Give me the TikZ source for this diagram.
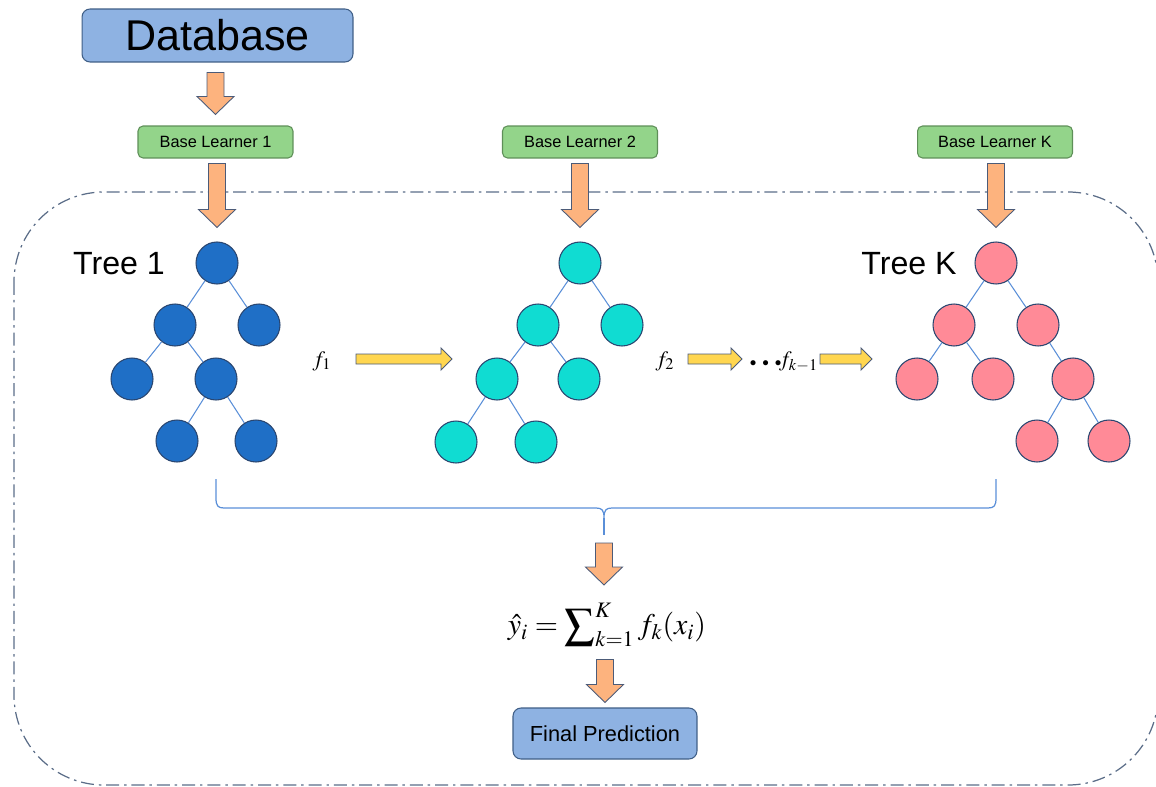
\documentclass[tikz,border=0pt]{standalone}
\usepackage{mathptmx}
\usepackage[no-math]{fontspec}
\usepackage{xcolor}
\usepackage{amsmath}
\usepackage{tikz}
\usetikzlibrary{calc}

\newfontfamily\labelfont{Liberation Sans}

\definecolor{dbblue}{HTML}{8EB2E2}
\definecolor{dbline}{HTML}{3F5E86}
\definecolor{learngreen}{HTML}{93D48A}
\definecolor{learnline}{HTML}{5E8F58}
\definecolor{arrorange}{HTML}{FDB37E}
\definecolor{arrline}{HTML}{4C5B78}
\definecolor{passyellow}{HTML}{FFD650}
\definecolor{treeblue}{HTML}{1F6FC6}
\definecolor{treecyan}{HTML}{10DCD2}
\definecolor{treepink}{HTML}{FF8A97}
\definecolor{nodeline}{HTML}{2A4670}
\definecolor{edgeblue}{HTML}{5A8FD8}
\definecolor{frameline}{HTML}{5B6D88}

\tikzset{
  dbbox/.style={draw=dbline, fill=dbblue, line width=0.6pt, rounded corners=0.16cm,
    minimum width=5.42cm, minimum height=1.06cm, inner sep=0pt,
    font=\labelfont\fontsize{24.5}{28}\selectfont},
  learner/.style={draw=learnline, fill=learngreen, line width=0.6pt, rounded corners=0.1cm,
    minimum width=3.1cm, minimum height=0.64cm, inner sep=0pt,
    font=\labelfont\fontsize{9.3}{11}\selectfont},
  finalbox/.style={dbbox, minimum width=3.68cm, minimum height=1.02cm,
    font=\labelfont\fontsize{12.4}{15}\selectfont},
  treename/.style={font=\labelfont\fontsize{18.3}{22}\selectfont},
  leaf/.style={circle, draw=nodeline, line width=0.6pt, minimum size=0.84cm, inner sep=0pt},
  edge/.style={draw=edgeblue, line width=0.6pt},
  blockarrow/.style={fill=arrorange, draw=arrline, line width=0.5pt},
  passarrow/.style={fill=passyellow, draw=arrline, line width=0.5pt},
  flabel/.style={font=\fontsize{12.5}{15}\selectfont},
}

\newcommand{\downblock}[2]{%
  \filldraw[blockarrow] let \p1=#1, \p2=#2 in
    (\x2-0.17cm,\y1) -- (\x2+0.17cm,\y1) -- (\x2+0.17cm,\y2+0.36cm)
    -- (\x2+0.37cm,\y2+0.36cm) -- (\x2,\y2) -- (\x2-0.37cm,\y2+0.36cm)
    -- (\x2-0.17cm,\y2+0.36cm) -- cycle;}

\newcommand{\rightblock}[2]{%
  \filldraw[passarrow] let \p1=#1, \p2=#2 in
    (\x1,\y1+0.1cm) -- (\x2-0.22cm,\y1+0.1cm) -- (\x2-0.22cm,\y1+0.22cm)
    -- (\x2,\y1) -- (\x2-0.22cm,\y1-0.22cm) -- (\x2-0.22cm,\y1-0.1cm)
    -- (\x1,\y1-0.1cm) -- cycle;}

\begin{document}
\begin{tikzpicture}[x=0.02cm, y=-0.02cm]
  \useasboundingbox (0,0) rectangle (1156,787);

  \draw[frameline, line width=0.7pt, rounded corners=1.8cm,
    dash pattern=on 7.4pt off 2.8pt on 1.4pt off 2.8pt] (14,192) rectangle (1158,785);

  \node[dbbox] (db) at (217.5,35.5) {Database};
  \node[learner] (bl1) at (215.5,142) {Base Learner 1};
  \node[learner] (bl2) at (580,142) {Base Learner 2};
  \node[learner] (blk) at (995,142) {Base Learner K};

  \node[treename] (t1) at (119,264) {Tree 1};
  \node[treename] (tk) at (909,264) {Tree K};

  % first tree
  \node[leaf, fill=treeblue] (a1) at (217,263) {};
  \node[leaf, fill=treeblue] (a2) at (175,325) {};
  \node[leaf, fill=treeblue] (a3) at (259,325) {};
  \node[leaf, fill=treeblue] (a4) at (132,379) {};
  \node[leaf, fill=treeblue] (a5) at (216,379) {};
  \node[leaf, fill=treeblue] (a6) at (177,441) {};
  \node[leaf, fill=treeblue] (a7) at (256,441) {};
  \draw[edge] (a1) -- (a2) (a1) -- (a3) (a2) -- (a4) (a2) -- (a5) (a5) -- (a6) (a5) -- (a7);

  % second tree
  \node[leaf, fill=treecyan] (b1) at (580,263) {};
  \node[leaf, fill=treecyan] (b2) at (538,325) {};
  \node[leaf, fill=treecyan] (b3) at (622,325) {};
  \node[leaf, fill=treecyan] (b4) at (497,379) {};
  \node[leaf, fill=treecyan] (b5) at (579,379) {};
  \node[leaf, fill=treecyan] (b6) at (456,442) {};
  \node[leaf, fill=treecyan] (b7) at (536,442) {};
  \draw[edge] (b1) -- (b2) (b1) -- (b3) (b2) -- (b4) (b2) -- (b5) (b4) -- (b6) (b4) -- (b7);

  % last tree
  \node[leaf, fill=treepink] (c1) at (996,263) {};
  \node[leaf, fill=treepink] (c2) at (954,325) {};
  \node[leaf, fill=treepink] (c3) at (1038,325) {};
  \node[leaf, fill=treepink] (c4) at (917,379) {};
  \node[leaf, fill=treepink] (c5) at (993,379) {};
  \node[leaf, fill=treepink] (c6) at (1073,379) {};
  \node[leaf, fill=treepink] (c7) at (1037,441) {};
  \node[leaf, fill=treepink] (c8) at (1109,441) {};
  \draw[edge] (c1) -- (c2) (c1) -- (c3) (c2) -- (c4) (c2) -- (c5) (c3) -- (c6) (c6) -- (c7) (c6) -- (c8);

  \node[flabel] (f1) at (322,361) {$f_1$};
  \node[flabel] (f2) at (665,361) {$f_2$};
  \node[flabel] (fk) at (784,362) {$\scriptscriptstyle\bullet\;\;\bullet\;\;\bullet\textstyle\! f_{k-1}$};

  \downblock{($(db.south)+(0,10)$)}{($(bl1.north)+(0,-11)$)}
  \downblock{($(bl1.south)+(0,5)$)}{($(a1.north)+(0,-14)$)}
  \downblock{($(bl2.south)+(0,5)$)}{($(b1.north)+(0,-14)$)}
  \downblock{($(blk.south)+(0,5)$)}{($(c1.north)+(0,-14)$)}

  \rightblock{($(f1)+(34,-2)$)}{($(f1)+(130,-2)$)}
  \rightblock{($(f2)+(23,-2)$)}{($(f2)+(77,-2)$)}
  \rightblock{($(fk)+(36,-3)$)}{($(fk)+(88,-3)$)}

  \draw[edgeblue, line width=0.7pt] (216,479) -- (216,498) .. controls (216,506) and (218,508) .. (224,508)
    -- (596,508) .. controls (602,508) and (604,510) .. (604,518)
    .. controls (604,510) and (606,508) .. (612,508)
    -- (988,508) .. controls (994,508) and (996,506) .. (996,498) -- (996,479);
  \draw[edgeblue, line width=0.7pt] (604,518) -- (604,535);
  \coordinate (tip) at (604,535);

  \node (fml) at (607,625) {\fontsize{17}{21}\selectfont $\displaystyle \hat{y}_i=\sum\nolimits_{k=1}^{K} f_k(x_i)$};
  \node[finalbox] (fin) at (605,733.5) {Final Prediction};

  \downblock{($(tip)+(0,8)$)}{($(tip)+(0,50)$)}
  \downblock{($(fin.north)+(0,-48)$)}{($(fin.north)+(0,-5)$)}
\end{tikzpicture}
\end{document}
